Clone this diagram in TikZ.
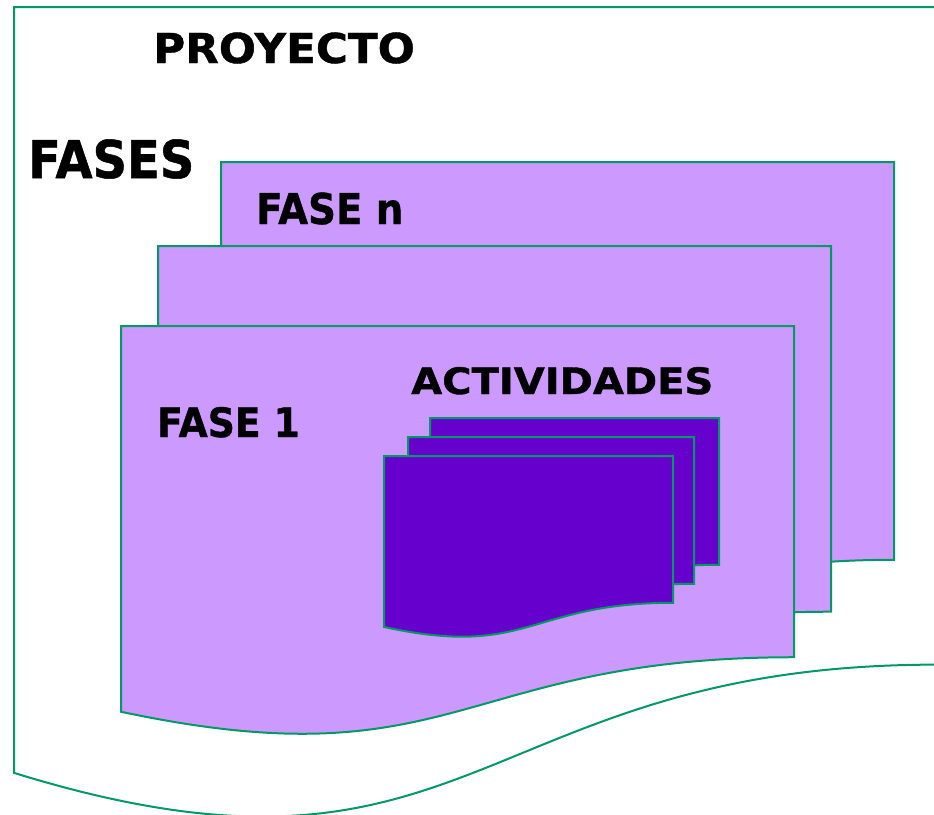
\documentclass[tikz,border=0pt]{standalone}
\usepackage{fontspec}
\setmainfont{DejaVu Sans}[BoldFeatures={FakeBold=1}]
\usetikzlibrary{positioning}
\definecolor{SheetGreen}{HTML}{009966}
\definecolor{LightLilac}{HTML}{CC99FF}
\definecolor{DarkViolet}{HTML}{6600CC}
% one sheet of the "document" shape, in a unit box
\newcommand{\sheet}[1]{%
  \draw[#1] (0,0) -- (1,0) -- (1,0.802)
    .. controls (0.5,0.802) and (0.5,1.1075) .. (0,0.934) -- cycle;}

\begin{document}
\begin{tikzpicture}[x=1pt, y=-1pt,
    sheetline/.style={draw=SheetGreen, line width=2pt},
    title/.style={font=\bfseries, anchor=base west, inner sep=0pt}]
  \fill[white] (0,0) rectangle (934,814);
  \useasboundingbox (0,0) rectangle (934,814);

  % proyecto
  \begin{scope}[shift={(14,7)}, xscale=922, yscale=820]
    \sheet{sheetline, fill=white}
  \end{scope}

  % fases
  \foreach \x/\y/\h in {221/162/496, 158/246/456, 121/326/413}{%
    \begin{scope}[shift={(\x,\y)}, xscale=673, yscale=\h]
      \sheet{sheetline, fill=LightLilac}
    \end{scope}
  }

  % actividades
  \foreach \x/\y/\w in {430/418/289, 408/437/286, 384/456/289}{%
    \begin{scope}[shift={(\x,\y)}, xscale=\w, yscale=183]
      \sheet{sheetline, fill=DarkViolet}
    \end{scope}
  }

  \node[title, font=\bfseries\fontsize{41.2}{48}\selectfont, xscale=1.06]
    (proyecto) at (153,63) {PROYECTO};
  \node[title, font=\bfseries\fontsize{52.1}{60}\selectfont, xscale=0.92]
    (fases) at (28,178) {FASES};
  \node[title, font=\bfseries\fontsize{42.5}{50}\selectfont, xscale=0.91]
    (fasen) at (256,224) {FASE n};
  \node[title, font=\bfseries\fontsize{40.5}{48}\selectfont, xscale=0.93]
    (fase1) at (157,437) {FASE 1};
  \node[title, font=\bfseries\fontsize{36.4}{44}\selectfont, xscale=1.1]
    (actividades) at (411,394) {ACTIVIDADES};
\end{tikzpicture}
\end{document}
